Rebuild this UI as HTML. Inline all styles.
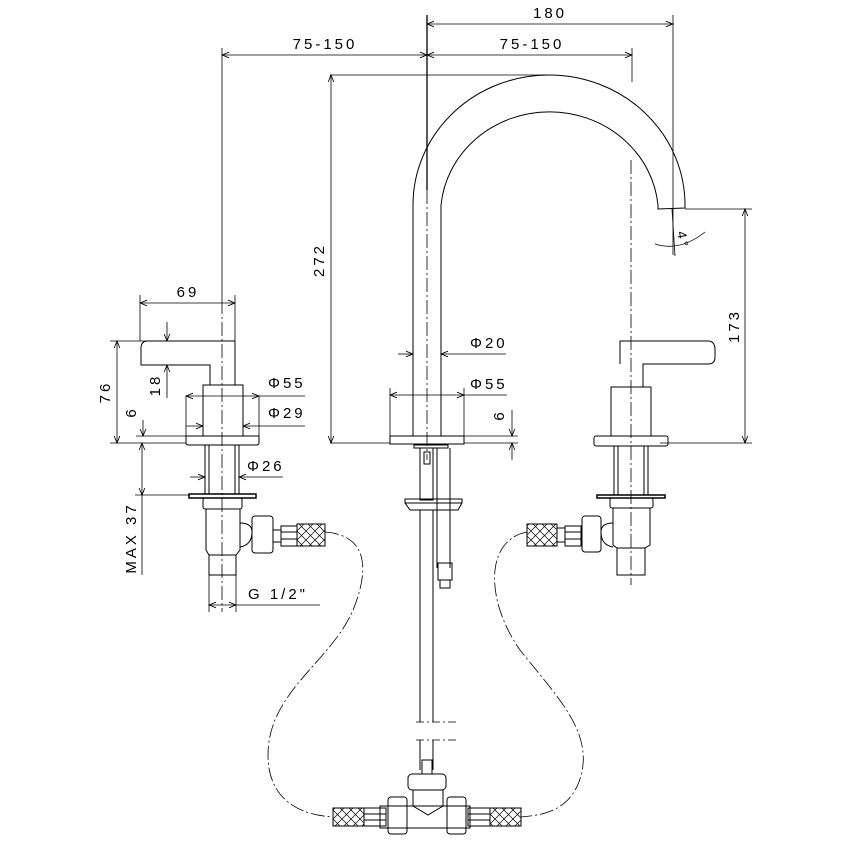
<!DOCTYPE html>
<html><head><meta charset="utf-8"><style>
html,body{margin:0;padding:0;background:#fff}
svg{display:block}
text{font-family:"Liberation Sans",sans-serif;font-size:15px;fill:#000;letter-spacing:3px}
</style></head><body>
<svg width="850" height="850" viewBox="0 0 850 850" xmlns="http://www.w3.org/2000/svg">
<defs>
<marker id="a" viewBox="0 0 10 10" refX="10" refY="5" markerWidth="9" markerHeight="7" orient="auto-start-reverse" markerUnits="userSpaceOnUse"><path d="M0,1 L10,5 L0,9" fill="none" stroke="#000" stroke-width="1.2"/></marker>
<pattern id="mesh" width="9" height="9" patternUnits="userSpaceOnUse"><path d="M0,0 L9,9 M9,0 L0,9" stroke="#000" stroke-width="0.7"/></pattern>
</defs>
<g fill="none" stroke="#000" stroke-width="1">
<g stroke-dasharray="14,3,2,3" stroke-width="0.8">
<line x1="222" y1="300" x2="222" y2="612"/>
<line x1="427" y1="190" x2="427" y2="460"/>
<line x1="631" y1="160" x2="631" y2="585"/>
</g>
<line x1="222" y1="48" x2="222" y2="300" stroke-width="0.8"/>
<line x1="427" y1="15" x2="427" y2="190" stroke-width="1.3"/>
<line x1="632" y1="48" x2="632" y2="82" stroke-width="0.8"/>
<line x1="673" y1="15" x2="673" y2="255" stroke-width="0.8"/>

<line x1="427" y1="24" x2="673" y2="24" marker-start="url(#a)" marker-end="url(#a)" stroke-width="0.8"/>
<line x1="222" y1="55" x2="427" y2="55" marker-start="url(#a)" marker-end="url(#a)" stroke-width="0.8"/>
<line x1="427" y1="55" x2="632" y2="55" marker-start="url(#a)" marker-end="url(#a)" stroke-width="0.8"/>

<path d="M413,436 L413,205 A136,130 0 0 1 685,205 L685,208 L658,209 L658,205 A109,103 0 0 0 441,205 L441,436"/>
<line x1="330" y1="75" x2="550" y2="75" stroke-width="0.8"/>
<line x1="331" y1="75" x2="331" y2="443" marker-start="url(#a)" marker-end="url(#a)" stroke-width="0.8"/>
<line x1="685" y1="209" x2="752" y2="209" stroke-width="0.8"/>
<line x1="745" y1="209" x2="745" y2="443" marker-start="url(#a)" marker-end="url(#a)" stroke-width="0.8"/>
<line x1="660" y1="443" x2="752" y2="443" stroke-width="0.8"/>
<line x1="672" y1="209" x2="675" y2="256" stroke-width="0.8"/>
<path d="M655,244 Q680,252 705,232" stroke-width="0.8"/>

<line x1="390" y1="388" x2="390" y2="436" stroke-width="0.8"/>
<line x1="464" y1="388" x2="464" y2="436" stroke-width="0.8"/>
<rect x="390" y="436" width="74" height="8"/>
<line x1="330" y1="443" x2="390" y2="443" stroke-width="0.8"/>
<line x1="464" y1="443" x2="518" y2="443" stroke-width="0.8"/>
<line x1="464" y1="436" x2="518" y2="436" stroke-width="0.8"/>
<line x1="398" y1="354" x2="413" y2="354" marker-end="url(#a)" stroke-width="0.8"/>
<line x1="441" y1="354" x2="506" y2="354" marker-start="url(#a)" stroke-width="0.8"/>
<line x1="390" y1="395" x2="464" y2="395" marker-start="url(#a)" marker-end="url(#a)" stroke-width="0.8"/>
<line x1="464" y1="395" x2="507" y2="395" stroke-width="0.8"/>
<line x1="512" y1="410" x2="512" y2="436" marker-end="url(#a)" stroke-width="0.8"/>
<line x1="512" y1="460" x2="512" y2="443" marker-end="url(#a)" stroke-width="0.8"/>
<rect x="414" y="445" width="34" height="3"/>
<rect x="420" y="448" width="13" height="52"/>
<rect x="424" y="452" width="6" height="12"/>
<line x1="437" y1="448" x2="437" y2="568"/>
<line x1="450" y1="448" x2="450" y2="568"/>
<path d="M405,499 L462,499 L462,503 L458,510 L410,510 L405,503 Z"/>
<line x1="405" y1="503" x2="462" y2="503"/>
<rect x="438" y="563" width="14" height="17"/>
<rect x="440" y="580" width="10" height="8"/>
<line x1="420" y1="510" x2="420" y2="722"/>
<line x1="433" y1="510" x2="433" y2="722"/>
<line x1="416" y1="722" x2="456" y2="722" stroke-width="0.8" stroke-dasharray="8,3,2,3"/>
<line x1="416" y1="740" x2="456" y2="740" stroke-width="0.8" stroke-dasharray="8,3,2,3"/>
<line x1="420" y1="740" x2="420" y2="770"/>
<line x1="433" y1="740" x2="433" y2="770"/>
<rect x="422" y="760" width="10" height="14"/>
<rect x="408" y="774" width="38" height="16" rx="4"/>
<path d="M413,790 L443,790 L443,806 L428,815 L413,806 Z"/>
<rect x="380" y="806" width="90" height="22"/>
<rect x="388" y="797" width="19" height="37" rx="3"/>
<rect x="447" y="797" width="19" height="37" rx="3"/>
<rect x="364" y="808" width="22" height="18"/>
<line x1="364" y1="814" x2="386" y2="814"/><line x1="364" y1="820" x2="386" y2="820"/>
<rect x="333" y="808" width="31" height="18" fill="url(#mesh)"/>
<rect x="468" y="808" width="22" height="18"/>
<line x1="468" y1="814" x2="490" y2="814"/><line x1="468" y1="820" x2="490" y2="820"/>
<rect x="490" y="808" width="31" height="18" fill="url(#mesh)"/>

<g stroke-dasharray="14,3,2,3" stroke-width="0.8">
<path d="M325,532 C365,535 370,565 355,605 C335,660 268,690 268,755 C268,800 300,815 333,817"/>
<path d="M527,532 C485,540 485,600 520,650 C560,700 590,730 582,772 C573,810 545,815 521,817"/>
</g>

<path d="M148,341 L235,341 L235,385 L210,385 L210,365 L141,365 L141,348 Q141,341 148,341 Z"/>
<rect x="203" y="385" width="40" height="51"/>
<path d="M186,436 L259,436 L259,443 Q259,445 256,445 L189,445 Q186,445 186,443 Z"/>
<rect x="205" y="445" width="34" height="49"/>
<line x1="209" y1="445" x2="209" y2="494"/><line x1="235" y1="445" x2="235" y2="494"/>
<rect x="189" y="494" width="67" height="4" stroke-width="1.5"/>
<rect x="203" y="498" width="39" height="11" rx="2"/>
<path d="M206,509 L240,509 L240,550 L236,555 L209,555 L206,550 Z"/>
<rect x="209" y="555" width="27" height="20"/>
<path d="M240,523 Q252,523 252,532 Q252,545 240,547"/>
<rect x="252" y="516" width="21" height="37" rx="3"/>
<rect x="281" y="526" width="16" height="20"/>
<line x1="281" y1="532" x2="297" y2="532"/><line x1="281" y1="539" x2="297" y2="539"/>
<line x1="273" y1="530" x2="281" y2="530"/><line x1="273" y1="542" x2="281" y2="542"/>
<rect x="297" y="524" width="28" height="22" fill="url(#mesh)"/>
<line x1="140" y1="303" x2="235" y2="303" marker-start="url(#a)" marker-end="url(#a)" stroke-width="0.8"/>
<line x1="140" y1="295" x2="140" y2="341" stroke-width="0.8"/>
<line x1="235" y1="295" x2="235" y2="341" stroke-width="0.8"/>
<line x1="110" y1="341" x2="148" y2="341" stroke-width="0.8"/>
<line x1="117" y1="341" x2="117" y2="443" marker-start="url(#a)" marker-end="url(#a)" stroke-width="0.8"/>
<line x1="110" y1="443" x2="186" y2="443" stroke-width="0.8"/>
<line x1="167" y1="322" x2="167" y2="341" marker-end="url(#a)" stroke-width="0.8"/>
<line x1="167" y1="398" x2="167" y2="365" marker-end="url(#a)" stroke-width="0.8"/>
<line x1="186" y1="396" x2="186" y2="436" stroke-width="0.8"/>
<line x1="259" y1="396" x2="259" y2="436" stroke-width="0.8"/>
<line x1="186" y1="396" x2="259" y2="396" marker-start="url(#a)" marker-end="url(#a)" stroke-width="0.8"/>
<line x1="259" y1="396" x2="305" y2="396" stroke-width="0.8"/>
<line x1="186" y1="426" x2="203" y2="426" marker-end="url(#a)" stroke-width="0.8"/>
<line x1="243" y1="426" x2="305" y2="426" marker-start="url(#a)" stroke-width="0.8"/>
<line x1="143" y1="420" x2="143" y2="436" marker-end="url(#a)" stroke-width="0.8"/>
<line x1="136" y1="436" x2="186" y2="436" stroke-width="0.8"/>
<line x1="142" y1="443" x2="142" y2="495" marker-start="url(#a)" marker-end="url(#a)" stroke-width="0.8"/>
<line x1="135" y1="495" x2="190" y2="495" stroke-width="0.8"/>
<line x1="142" y1="495" x2="142" y2="575" stroke-width="0.8"/>
<line x1="190" y1="477" x2="205" y2="477" marker-end="url(#a)" stroke-width="0.8"/>
<line x1="239" y1="477" x2="283" y2="477" marker-start="url(#a)" stroke-width="0.8"/>
<line x1="209" y1="575" x2="209" y2="612" stroke-width="0.8"/>
<line x1="236" y1="575" x2="236" y2="612" stroke-width="0.8"/>
<line x1="209" y1="605" x2="236" y2="605" marker-start="url(#a)" marker-end="url(#a)" stroke-width="0.8"/>
<line x1="236" y1="605" x2="320" y2="605" stroke-width="0.8"/>

<path d="M620,364 L620,341 L708,341 Q715,341 715,350 L715,357 Q715,364 708,364 L643,364 L643,387"/>
<rect x="611" y="387" width="40" height="49"/>
<rect x="594" y="436" width="74" height="10" rx="2"/>
<rect x="614" y="446" width="34" height="49"/>
<line x1="618" y1="446" x2="618" y2="495"/><line x1="644" y1="446" x2="644" y2="495"/>
<rect x="597" y="495" width="68" height="3" stroke-width="1.5"/>
<rect x="610" y="498" width="43" height="10" rx="2"/>
<path d="M613,508 L650,508 L650,545 L645,548 L617,548 L613,545 Z"/>
<rect x="617" y="548" width="28" height="27"/>
<path d="M613,523 Q601,523 601,532 Q601,545 613,547"/>
<rect x="582" y="516" width="19" height="36" rx="3"/>
<rect x="565" y="526" width="16" height="20"/>
<line x1="565" y1="532" x2="581" y2="532"/><line x1="565" y1="539" x2="581" y2="539"/>
<rect x="527" y="524" width="30" height="22" fill="url(#mesh)"/>
<line x1="557" y1="528" x2="565" y2="528"/><line x1="557" y1="542" x2="565" y2="542"/>
</g>

<text x="550" y="18" text-anchor="middle">180</text>
<text x="325" y="49" text-anchor="middle">75-150</text>
<text x="532" y="49" text-anchor="middle">75-150</text>
<text x="188" y="297" text-anchor="middle">69</text>
<text x="268" y="388">Φ55</text>
<text x="268" y="418">Φ29</text>
<text x="247" y="471">Φ26</text>
<text x="248" y="599">G 1/2"</text>
<text x="470" y="348">Φ20</text>
<text x="470" y="389">Φ55</text>
<text transform="translate(110,392) rotate(-90)" text-anchor="middle">76</text>
<text transform="translate(160,385) rotate(-90)" text-anchor="middle">18</text>
<text transform="translate(136,412) rotate(-90)" text-anchor="middle">6</text>
<text transform="translate(136,538) rotate(-90)" text-anchor="middle">MAX 37</text>
<text transform="translate(324,260) rotate(-90)" text-anchor="middle">272</text>
<text transform="translate(739,326) rotate(-90)" text-anchor="middle">173</text>
<text transform="translate(504,415) rotate(-90)" text-anchor="middle">6</text>
<text transform="translate(677,232) rotate(80)" style="font-size:13px">4°</text>
</svg>
</body></html>
